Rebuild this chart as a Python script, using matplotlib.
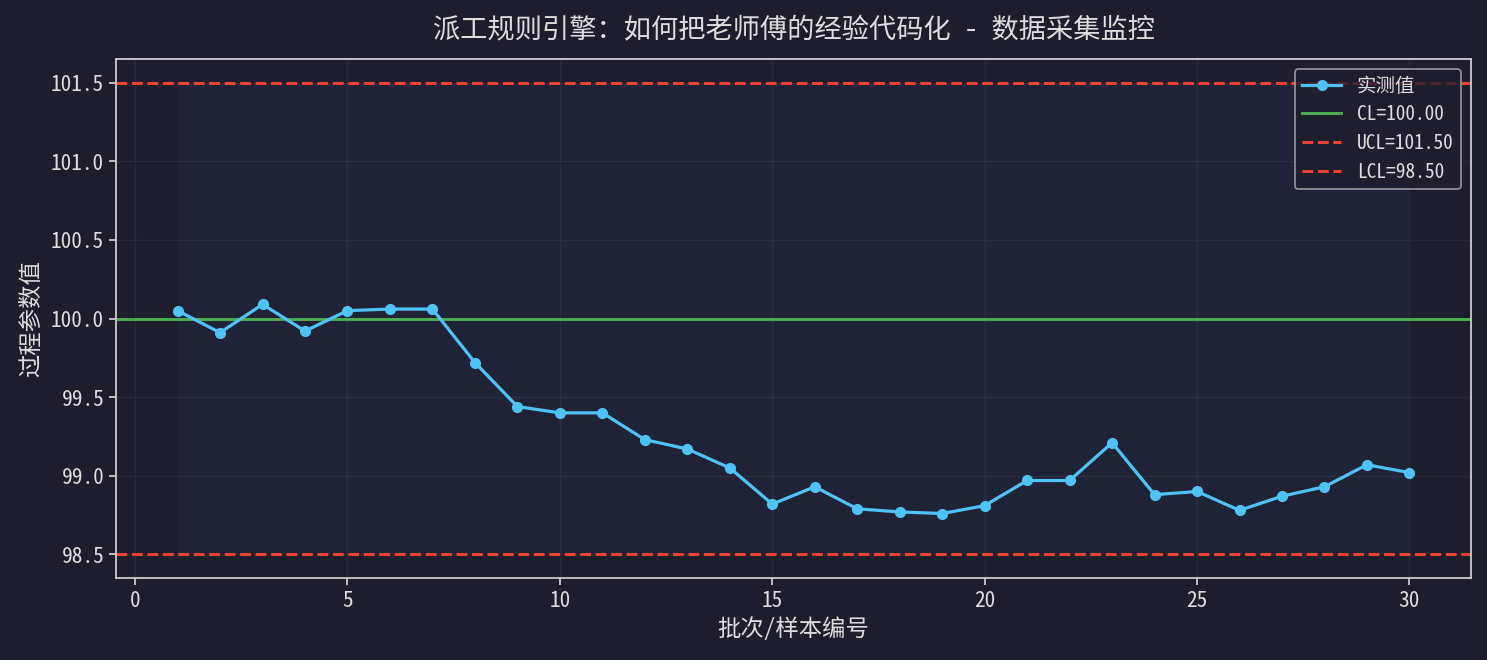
import numpy as np
import matplotlib
matplotlib.use("Agg")
import matplotlib.pyplot as plt

plt.rcParams['font.family'] = ['Noto Sans Mono CJK SC', 'Noto Sans CJK SC', 'DejaVu Sans']
plt.rcParams['axes.unicode_minus'] = False

# batch index and measured process values
batches = list(range(1, 31))
values = [100.05, 99.91, 100.09, 99.92, 100.05, 100.06, 100.06, 99.72, 99.44, 99.40,
          99.40, 99.23, 99.17, 99.05, 98.82, 98.93, 98.79, 98.77, 98.76, 98.81,
          98.97, 98.97, 99.21, 98.88, 98.90, 98.78, 98.87, 98.93, 99.07, 99.02]
cl = 100.0
ucl = 101.5
lcl = 98.5

title = "派工规则引擎：如何把老师傅的经验代码化 - 数据采集监控"
xlabel = "批次/样本编号"
ylabel = "过程参数值"

bg = '#1e1d2c'
fg = '#dddddd'

fig = plt.figure(figsize=(14.87, 6.6), dpi=100, facecolor=bg)
ax = fig.add_axes([116 / 1487, 1 - 578 / 660, (1471 - 116) / 1487, (578 - 59) / 660])
ax.set_facecolor(bg)

# shaded band between control limits
ax.fill_between(batches, lcl, ucl, color='#4a90d9', alpha=0.06, linewidth=0)
ax.plot(batches, values, color='#4fc3f7', linewidth=2.3, marker='o', markersize=7,
        label='实测值', zorder=4)
ax.axhline(cl, color='#4caf50', linewidth=2.1, label=f'CL={cl:.2f}')
ax.axhline(ucl, color='#f44336', linewidth=2.1, linestyle='--', label=f'UCL={ucl:.2f}')
ax.axhline(lcl, color='#f44336', linewidth=2.1, linestyle='--', label=f'LCL={lcl:.2f}')

ax.set_xlim(-0.45, 31.45)
ax.set_ylim(98.35, 101.65)
ax.set_yticks([98.5, 99.0, 99.5, 100.0, 100.5, 101.0, 101.5])
ax.set_xticks([0, 5, 10, 15, 20, 25, 30])

ax.grid(True, color='#3a3a4a', alpha=0.4, linewidth=1.0)
ax.set_axisbelow(True)

for s in ax.spines.values():
    s.set_color('#cccccc')
    s.set_linewidth(1.3)
ax.tick_params(colors='#cccccc', labelcolor=fg, labelsize=15.4, width=1.3, length=5)

ax.set_title(title, color=fg, fontsize=19.6, pad=15)
ax.set_xlabel(xlabel, color=fg, fontsize=16.8, labelpad=4)
ax.set_ylabel(ylabel, color=fg, fontsize=16.8, labelpad=6)

leg = ax.legend(loc='upper right', fontsize=14, facecolor=bg, edgecolor='#aaaaaa',
                framealpha=0.8, labelcolor=fg)
leg.get_frame().set_linewidth(1.3)

fig.savefig('out.png', dpi=100, facecolor=bg)
